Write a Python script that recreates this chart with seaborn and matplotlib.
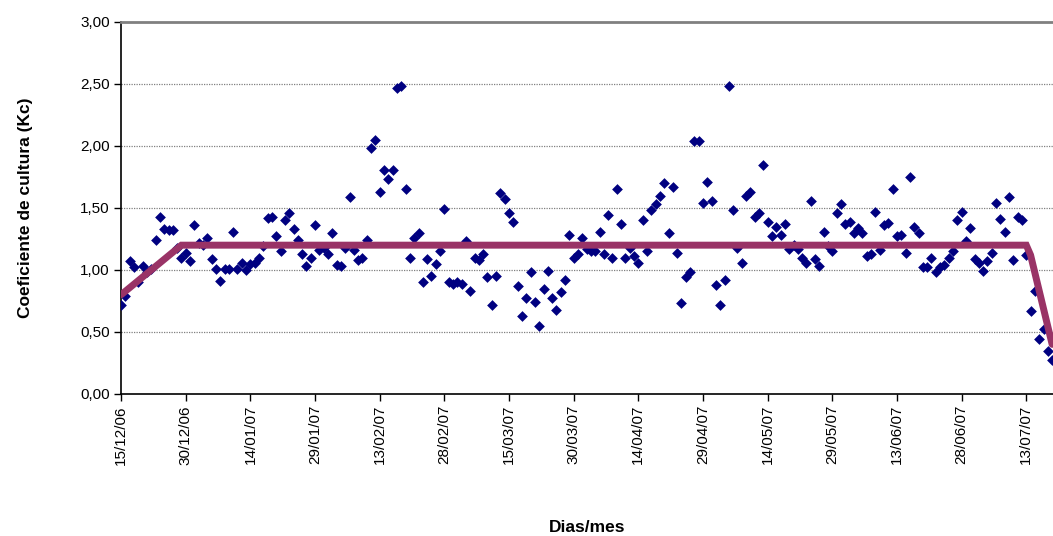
import pandas as pd
import matplotlib
matplotlib.use("Agg")
import matplotlib.pyplot as plt
import seaborn as sns

sns.set_style("white")
plt.rcParams['font.family'] = ['Liberation Sans', 'DejaVu Sans']
plt.rcParams['text.color'] = 'black'
plt.rcParams['axes.labelcolor'] = 'black'
plt.rcParams['xtick.color'] = 'black'
plt.rcParams['ytick.color'] = 'black'

# Kc observado (un valor por dia desde 15/12/06)
start = "2006-12-15"
kc_obs = [
    0.72, 0.79, 1.07, 1.02, 0.90, 1.03, 0.98, 1.01, 1.24, 1.43,
    1.33, 1.32, 1.32, 1.18, 1.10, 1.14, 1.07, 1.36, 1.22, 1.20,
    1.26, 1.09, 1.01, 0.91, 1.01, 1.01, 1.31, 1.01, 1.06, 1.00,
    1.05, 1.06, 1.10, 1.19, 1.42, 1.43, 1.27, 1.15, 1.40, 1.46,
    1.33, 1.24, 1.13, 1.03, 1.10, 1.36, 1.16, 1.18, 1.13, 1.30,
    1.04, 1.03, 1.18, 1.59, 1.16, 1.08, 1.10, 1.24, 1.98, 2.05,
    1.63, 1.81, 1.73, 1.81, 2.47, 2.48, 1.65, 1.10, 1.26, 1.30,
    0.90, 1.09, 0.95, 1.05, 1.15, 1.49, 0.90, 0.89, 0.90, 0.89,
    1.23, 0.83, 1.10, 1.08, 1.13, 0.94, 0.72, 0.95, 1.62, 1.57,
    1.46, 1.39, 0.87, 0.63, 0.77, 0.98, 0.74, 0.55, 0.85, 0.99,
    0.77, 0.68, 0.82, 0.92, 1.28, 1.10, 1.13, 1.26, 1.17, 1.15,
    1.15, 1.31, 1.13, 1.44, 1.10, 1.65, 1.37, 1.10, 1.18, 1.11,
    1.06, 1.40, 1.15, 1.48, 1.53, 1.60, 1.70, 1.30, 1.67, 1.14,
    0.73, 0.94, 0.98, 2.04, 2.04, 1.54, 1.71, 1.56, 0.88, 0.72,
    0.92, 2.48, 1.48, 1.18, 1.06, 1.60, 1.63, 1.43, 1.46, 1.85,
    1.39, 1.27, 1.35, 1.28, 1.37, 1.17, 1.20, 1.17, 1.10, 1.06,
    1.56, 1.09, 1.03, 1.31, 1.19, 1.15, 1.46, 1.53, 1.37, 1.39,
    1.30, 1.34, 1.30, 1.11, 1.13, 1.47, 1.16, 1.36, 1.38, 1.65,
    1.27, 1.28, 1.14, 1.75, 1.35, 1.30, 1.02, 1.02, 1.10, 0.98,
    1.02, 1.04, 1.10, 1.15, 1.40, 1.47, 1.23, 1.34, 1.09, 1.06,
    0.99, 1.07, 1.14, 1.54, 1.41, 1.31, 1.59, 1.08, 1.43, 1.40,
    1.12, 0.67, 0.83, 0.44, 0.52, 0.35, 0.27,
]

# Kc FAO (vertices de la curva)
kc_fao_dates = ["2006-12-15", "2006-12-29", "2007-07-13", "2007-07-14", "2007-07-19"]
kc_fao = [0.80, 1.20, 1.20, 1.12, 0.40]

tick_dates = pd.date_range(start, periods=15, freq="15D")
y_ticks = [0, 0.5, 1.0, 1.5, 2.0, 2.5, 3.0]

df_obs = pd.DataFrame({"fecha": pd.date_range(start, periods=len(kc_obs), freq="D"),
                       "kc": kc_obs})
df_fao = pd.DataFrame({"fecha": pd.to_datetime(kc_fao_dates), "kc": kc_fao})

fig = plt.figure(figsize=(10.53, 5.36), dpi=100)
ax = fig.add_axes([0.115, 0.265, 0.885, 0.694])

sns.scatterplot(data=df_obs, x="fecha", y="kc", marker="D", color="#000080",
                s=30, linewidth=0, ax=ax, zorder=3)
sns.lineplot(data=df_fao, x="fecha", y="kc", color="#993366", linewidth=5,
             solid_joinstyle="miter", ax=ax, zorder=4)

ax.set_ylim(0, 3)
ax.set_xlim(pd.Timestamp(start), pd.Timestamp(start) + pd.Timedelta(days=216.2))
ax.set_yticks(y_ticks)
ax.set_yticklabels([f"{v:.2f}".replace(".", ",") for v in y_ticks], fontsize=11)
ax.set_xticks(tick_dates)
ax.set_xticklabels([d.strftime("%d/%m/%y") for d in tick_dates], rotation=90,
                   fontsize=11)

for v in y_ticks[1:-1]:
    ax.axhline(v, color="#808080", linestyle=(0, (1, 1)), linewidth=0.9, zorder=1)

ax.tick_params(axis="both", direction="out", length=5, width=1, color="black",
               left=True, bottom=True, pad=3)
for side in ["left", "bottom"]:
    ax.spines[side].set_color("black")
    ax.spines[side].set_linewidth(1.2)
ax.spines["right"].set_visible(False)
ax.spines["top"].set_color("#808080")
ax.spines["top"].set_linewidth(2)

ax.set_xlabel("Dias/mes", fontsize=12.5, fontweight="bold", labelpad=40)
ax.set_ylabel("Coeficiente de cultura (Kc)", fontsize=12.5, fontweight="bold",
              labelpad=34)

plt.savefig("out.png", dpi=100)
